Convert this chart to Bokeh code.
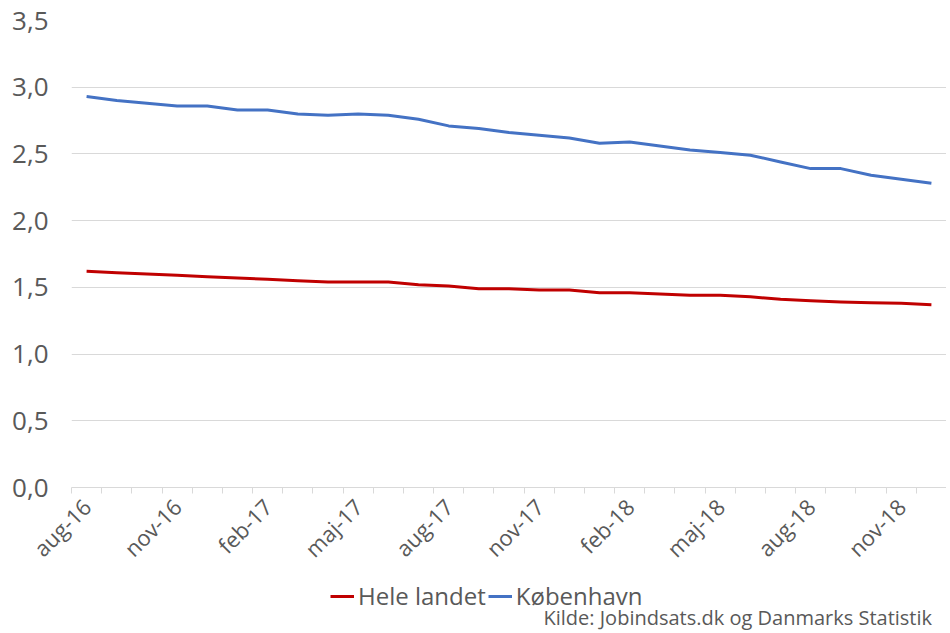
import math
from bokeh.plotting import figure
from bokeh.layouts import column
from bokeh.models import (ColumnDataSource, Range1d, FixedTicker, Legend, LegendItem, Label)
from bokeh.embed import file_html
from bokeh.resources import INLINE

months = ["aug-16", "sep-16", "okt-16", "nov-16", "dec-16", "jan-17", "feb-17", "mar-17",
          "apr-17", "maj-17", "jun-17", "jul-17", "aug-17", "sep-17", "okt-17", "nov-17",
          "dec-17", "jan-18", "feb-18", "mar-18", "apr-18", "maj-18", "jun-18", "jul-18",
          "aug-18", "sep-18", "okt-18", "nov-18", "dec-18"]
hele_landet = [1.62, 1.61, 1.60, 1.59, 1.58, 1.57, 1.56, 1.55, 1.54, 1.54, 1.54, 1.52, 1.51,
               1.49, 1.49, 1.48, 1.48, 1.46, 1.46, 1.45, 1.44, 1.44, 1.43, 1.41, 1.40, 1.39,
               1.385, 1.38, 1.37]
koebenhavn = [2.93, 2.90, 2.88, 2.86, 2.86, 2.83, 2.83, 2.80, 2.79, 2.80, 2.79, 2.76, 2.71,
              2.69, 2.66, 2.64, 2.62, 2.58, 2.59, 2.56, 2.53, 2.51, 2.49, 2.44, 2.39, 2.39,
              2.34, 2.31, 2.28]
y_ticks = [0.0, 0.5, 1.0, 1.5, 2.0, 2.5, 3.0, 3.5]
series_names = ["Hele landet", "København"]
series_colors = ["#C00000", "#4472C4"]
source_text = "Kilde:  Jobindsats.dk og Danmarks Statistik"

FONT = "Open Sans"
GRAY = "#595959"
W = 946

x = list(range(len(months)))
src = ColumnDataSource(dict(x=x, hele=hele_landet, kbh=koebenhavn))

p = figure(width=W, height=577, output_backend="svg", toolbar_location=None,
           x_range=Range1d(-0.5, len(months) - 0.5), y_range=Range1d(0, 3.5),
           min_border_left=71, min_border_right=0, min_border_top=20, min_border_bottom=90)
p.outline_line_color = None
p.background_fill_color = "white"
p.border_fill_color = "white"

p.line("x", "hele", source=src, line_color=series_colors[0], line_width=3, line_join="round")
p.line("x", "kbh", source=src, line_color=series_colors[1], line_width=3, line_join="round")

# y axis
p.yaxis.ticker = FixedTicker(ticks=y_ticks)
p.yaxis.major_label_overrides = {t: f"{t:.1f}".replace(".", ",") for t in y_ticks}
p.yaxis.axis_line_color = None
p.yaxis.major_tick_line_color = None
p.yaxis.minor_tick_line_color = None
p.yaxis.major_label_text_font = FONT
p.yaxis.major_label_text_font_size = "26px"
p.yaxis.major_label_text_color = GRAY
p.yaxis.major_label_standoff = 17
p.ygrid.grid_line_color = "#d9d9d9"
p.ygrid.grid_line_width = 1

# x axis
label_idx = list(range(0, len(months), 3))
p.xaxis.ticker = FixedTicker(ticks=label_idx,
                             minor_ticks=[i - 0.5 for i in range(len(months) + 1)])
p.xaxis.major_label_overrides = {i: months[i] for i in label_idx}
p.xaxis.major_label_orientation = math.pi / 4
p.xaxis.major_label_text_font = FONT
p.xaxis.major_label_text_font_size = "22px"
p.xaxis.major_label_text_color = GRAY
p.xaxis.major_tick_line_color = None
p.xaxis.minor_tick_line_color = "#d9d9d9"
p.xaxis.minor_tick_in = 0
p.xaxis.minor_tick_out = 6
p.xaxis.axis_line_color = "#d9d9d9"
p.xaxis.major_label_standoff = 9
p.xgrid.grid_line_color = None

# legend + source strip
H2 = 53
p2 = figure(width=W, height=H2, output_backend="svg", toolbar_location=None,
            x_range=Range1d(0, W), y_range=Range1d(0, H2),
            min_border=0, min_border_left=0, min_border_right=0,
            min_border_top=0, min_border_bottom=0)
p2.axis.visible = False
p2.grid.visible = False
p2.outline_line_color = None
p2.border_fill_color = "white"
r1 = p2.line(x=[-50, -40], y=[-50, -50], line_color=series_colors[0], line_width=3)
r2 = p2.line(x=[-50, -40], y=[-50, -50], line_color=series_colors[1], line_width=3)
legend = Legend(items=[LegendItem(label=series_names[0], renderers=[r1]),
                       LegendItem(label=series_names[1], renderers=[r2])],
                orientation="horizontal", location=(259, 18),
                label_text_font=FONT, label_text_font_size="24px",
                label_text_color=GRAY, glyph_width=24, glyph_height=26,
                label_standoff=4, spacing=2, padding=0, margin=0,
                border_line_color=None, background_fill_alpha=0)
p2.add_layout(legend, "center")
p2.add_layout(Label(x=936, y=13, text=source_text, text_align="right",
                    text_baseline="middle", text_font=FONT, text_font_size="20px",
                    text_color=GRAY))

layout = column(p, p2, spacing=0)
open("out.html", "w").write(file_html(layout, INLINE))
